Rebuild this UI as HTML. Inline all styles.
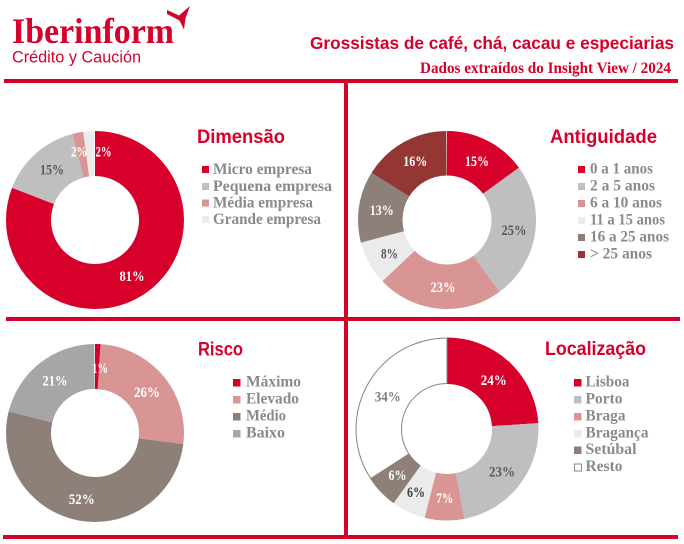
<!DOCTYPE html>
<html><head><meta charset="utf-8"><style>
html,body{margin:0;padding:0;background:#fff;}
svg{display:block;}
.t{font-family:"Liberation Sans",sans-serif;font-weight:bold;fill:#d6002a;}
.lg{font-family:"Liberation Serif",serif;font-weight:bold;fill:#8a8a8a;font-size:16px;}
.pc{font-family:"Liberation Serif",serif;font-weight:bold;font-size:15px;text-anchor:middle;}
</style></head><body>
<svg width="684" height="544" viewBox="0 0 684 544" xmlns="http://www.w3.org/2000/svg">
<rect width="684" height="544" fill="#fff"/>
<!-- header -->
<text x="12" y="43" font-family="Liberation Serif,serif" font-weight="bold" font-size="36" fill="#d6002a" textLength="162" lengthAdjust="spacingAndGlyphs">Iberinform</text>
<path d="M167,10 L179,15.5 L190,6 L185.5,18 L184,29.5 L179.5,20.5 L167,14 Z" fill="#d6002a"/>
<text x="12" y="62.5" font-family="Liberation Sans,sans-serif" font-size="17" fill="#d6002a" textLength="129" lengthAdjust="spacingAndGlyphs">Crédito y Caución</text>
<text x="310" y="49" class="t" font-size="17.5" textLength="364" lengthAdjust="spacingAndGlyphs">Grossistas de café, chá, cacau e especiarias</text>
<text x="420" y="73" font-family="Liberation Serif,serif" font-weight="bold" font-size="16" fill="#d6002a" textLength="251" lengthAdjust="spacingAndGlyphs">Dados extraídos do Insight View / 2024</text>

<!-- grid lines -->
<rect x="4" y="79" width="674" height="4" fill="#d6002a"/>
<rect x="344" y="79" width="4" height="460" fill="#d6002a"/>
<rect x="6" y="317" width="674" height="4" fill="#d6002a"/>
<rect x="3" y="535" width="675" height="4" fill="#d6002a"/>

<!-- Dimensão donut -->
<g transform="rotate(-90 95 220)" fill="none" stroke-width="45">
<circle cx="95" cy="220" r="66.5" pathLength="100" stroke="#d6002a" stroke-dasharray="81 100" stroke-dashoffset="0"/>
<circle cx="95" cy="220" r="66.5" pathLength="100" stroke="#bfbfbf" stroke-dasharray="15 100" stroke-dashoffset="-81"/>
<circle cx="95" cy="220" r="66.5" pathLength="100" stroke="#d99594" stroke-dasharray="2 100" stroke-dashoffset="-96"/>
<circle cx="95" cy="220" r="66.5" pathLength="100" stroke="#ebebeb" stroke-dasharray="2 100" stroke-dashoffset="-98"/>
</g>
<text class="pc" x="132" y="281" fill="#fff" textLength="25" lengthAdjust="spacingAndGlyphs">81%</text>
<text class="pc" x="52" y="174.5" fill="#595959" textLength="24" lengthAdjust="spacingAndGlyphs">15%</text>
<text class="pc" x="79" y="156.5" fill="#fff" textLength="16" lengthAdjust="spacingAndGlyphs">2%</text>
<text class="pc" x="103.5" y="156.5" fill="#fff" textLength="16" lengthAdjust="spacingAndGlyphs">2%</text>

<text x="197" y="143" class="t" font-size="19" textLength="88" lengthAdjust="spacingAndGlyphs">Dimensão</text>
<rect x="202" y="166" width="7" height="7" fill="#d6002a"/>
<text class="lg" x="213" y="174" textLength="99" lengthAdjust="spacingAndGlyphs">Micro empresa</text>
<rect x="202" y="183" width="7" height="7" fill="#bfbfbf"/>
<text class="lg" x="213" y="191" textLength="119" lengthAdjust="spacingAndGlyphs">Pequena empresa</text>
<rect x="202" y="199.5" width="7" height="7" fill="#d99594"/>
<text class="lg" x="213" y="207.5" textLength="100" lengthAdjust="spacingAndGlyphs">Média empresa</text>
<rect x="202" y="216" width="7" height="7" fill="#ebebeb"/>
<text class="lg" x="213" y="224" textLength="108" lengthAdjust="spacingAndGlyphs">Grande empresa</text>

<!-- Antiguidade donut -->
<g transform="rotate(-90 447 220)" fill="none" stroke-width="44.5">
<circle cx="447" cy="220" r="66.75" pathLength="100" stroke="#d6002a" stroke-dasharray="15 100" stroke-dashoffset="0"/>
<circle cx="447" cy="220" r="66.75" pathLength="100" stroke="#bfbfbf" stroke-dasharray="25 100" stroke-dashoffset="-15"/>
<circle cx="447" cy="220" r="66.75" pathLength="100" stroke="#d99594" stroke-dasharray="23 100" stroke-dashoffset="-40"/>
<circle cx="447" cy="220" r="66.75" pathLength="100" stroke="#ebebeb" stroke-dasharray="8 100" stroke-dashoffset="-63"/>
<circle cx="447" cy="220" r="66.75" pathLength="100" stroke="#8e7f79" stroke-dasharray="13 100" stroke-dashoffset="-71"/>
<circle cx="447" cy="220" r="66.75" pathLength="100" stroke="#943634" stroke-dasharray="16 100" stroke-dashoffset="-84"/>
</g>
<text class="pc" x="477" y="166" fill="#fff" textLength="24" lengthAdjust="spacingAndGlyphs">15%</text>
<text class="pc" x="514" y="235" fill="#595959" textLength="25" lengthAdjust="spacingAndGlyphs">25%</text>
<text class="pc" x="443" y="292" fill="#fff" textLength="25" lengthAdjust="spacingAndGlyphs">23%</text>
<text class="pc" x="389.5" y="258.3" fill="#595959" textLength="17" lengthAdjust="spacingAndGlyphs">8%</text>
<text class="pc" x="381.7" y="215" fill="#fff" textLength="24" lengthAdjust="spacingAndGlyphs">13%</text>
<text class="pc" x="415.3" y="166" fill="#fff" textLength="24" lengthAdjust="spacingAndGlyphs">16%</text>

<text x="550" y="143" class="t" font-size="19" textLength="107" lengthAdjust="spacingAndGlyphs">Antiguidade</text>
<rect x="578" y="166" width="7" height="7" fill="#d6002a"/>
<text class="lg" x="590" y="173.5" textLength="63" lengthAdjust="spacingAndGlyphs">0 a 1 anos</text>
<rect x="578" y="183" width="7" height="7" fill="#bfbfbf"/>
<text class="lg" x="590" y="190.5" textLength="65" lengthAdjust="spacingAndGlyphs">2 a 5 anos</text>
<rect x="578" y="200" width="7" height="7" fill="#d99594"/>
<text class="lg" x="590" y="207.5" textLength="72" lengthAdjust="spacingAndGlyphs">6 a 10 anos</text>
<rect x="578" y="217" width="7" height="7" fill="#ebebeb"/>
<text class="lg" x="590" y="224.5" textLength="75" lengthAdjust="spacingAndGlyphs">11 a 15 anos</text>
<rect x="578" y="234" width="7" height="7" fill="#8e7f79"/>
<text class="lg" x="590" y="241.5" textLength="79" lengthAdjust="spacingAndGlyphs">16 a 25 anos</text>
<rect x="578" y="251" width="7" height="7" fill="#943634"/>
<text class="lg" x="590" y="258.5" textLength="62" lengthAdjust="spacingAndGlyphs">&gt; 25 anos</text>

<!-- Risco donut -->
<g transform="rotate(-90 95 433)" fill="none" stroke-width="45">
<circle cx="95" cy="433" r="66.5" pathLength="100" stroke="#d6002a" stroke-dasharray="1 100" stroke-dashoffset="0"/>
<circle cx="95" cy="433" r="66.5" pathLength="100" stroke="#d99594" stroke-dasharray="26 100" stroke-dashoffset="-1"/>
<circle cx="95" cy="433" r="66.5" pathLength="100" stroke="#8e7f79" stroke-dasharray="52 100" stroke-dashoffset="-27"/>
<circle cx="95" cy="433" r="66.5" pathLength="100" stroke="#a6a6a6" stroke-dasharray="21 100" stroke-dashoffset="-79"/>
</g>
<text class="pc" x="100" y="373" fill="#fff" textLength="16" lengthAdjust="spacingAndGlyphs">1%</text>
<text class="pc" x="147" y="397" fill="#fff" textLength="26" lengthAdjust="spacingAndGlyphs">26%</text>
<text class="pc" x="55" y="385.5" fill="#fff" textLength="25" lengthAdjust="spacingAndGlyphs">21%</text>
<text class="pc" x="81.7" y="504" fill="#fff" textLength="26" lengthAdjust="spacingAndGlyphs">52%</text>

<text x="198" y="355.5" class="t" font-size="19" textLength="45" lengthAdjust="spacingAndGlyphs">Risco</text>
<rect x="233" y="379" width="7.5" height="7.5" fill="#d6002a"/>
<text class="lg" x="246" y="386.5" textLength="55" lengthAdjust="spacingAndGlyphs">Máximo</text>
<rect x="233" y="396" width="7.5" height="7.5" fill="#d99594"/>
<text class="lg" x="246" y="403.5" textLength="53" lengthAdjust="spacingAndGlyphs">Elevado</text>
<rect x="233" y="413" width="7.5" height="7.5" fill="#8e7f79"/>
<text class="lg" x="246" y="420.5" textLength="40" lengthAdjust="spacingAndGlyphs">Médio</text>
<rect x="233" y="430" width="7.5" height="7.5" fill="#a6a6a6"/>
<text class="lg" x="246" y="437.5" textLength="39" lengthAdjust="spacingAndGlyphs">Baixo</text>

<!-- Localização donut -->
<g transform="rotate(-90 447 429)" fill="none" stroke-width="46.5">
<circle cx="447" cy="429" r="68.25" pathLength="100" stroke="#d6002a" stroke-dasharray="24 100" stroke-dashoffset="0"/>
<circle cx="447" cy="429" r="68.25" pathLength="100" stroke="#bfbfbf" stroke-dasharray="23 100" stroke-dashoffset="-24"/>
<circle cx="447" cy="429" r="68.25" pathLength="100" stroke="#d99594" stroke-dasharray="7 100" stroke-dashoffset="-47"/>
<circle cx="447" cy="429" r="68.25" pathLength="100" stroke="#ebebeb" stroke-dasharray="6 100" stroke-dashoffset="-54"/>
<circle cx="447" cy="429" r="68.25" pathLength="100" stroke="#8e7f79" stroke-dasharray="6 100" stroke-dashoffset="-60"/>
</g>
<g transform="rotate(-90 447 429)" fill="none" stroke="#8e7f79" stroke-width="1">
<circle cx="447" cy="429" r="91" pathLength="100" stroke-dasharray="34 100" stroke-dashoffset="-66"/>
<circle cx="447" cy="429" r="45.5" pathLength="100" stroke-dasharray="34 100" stroke-dashoffset="-66"/>
</g>
<line x1="447" y1="338" x2="447" y2="383.5" stroke="#8e7f79" stroke-width="1"/>
<text class="pc" x="493.7" y="385" fill="#fff" textLength="26" lengthAdjust="spacingAndGlyphs">24%</text>
<text class="pc" x="387.7" y="401.5" fill="#808080" textLength="26" lengthAdjust="spacingAndGlyphs">34%</text>
<text class="pc" x="502" y="476.5" fill="#595959" textLength="26" lengthAdjust="spacingAndGlyphs">23%</text>
<text class="pc" x="397.5" y="480" fill="#fff" textLength="18" lengthAdjust="spacingAndGlyphs">6%</text>
<text class="pc" x="416" y="497" fill="#404040" textLength="18" lengthAdjust="spacingAndGlyphs">6%</text>
<text class="pc" x="444.7" y="503" fill="#fff" textLength="17" lengthAdjust="spacingAndGlyphs">7%</text>

<text x="545" y="355" class="t" font-size="19" textLength="101" lengthAdjust="spacingAndGlyphs">Localização</text>
<rect x="574" y="379" width="7.5" height="7.5" fill="#d6002a"/>
<text class="lg" x="585.5" y="386.5" textLength="44" lengthAdjust="spacingAndGlyphs">Lisboa</text>
<rect x="574" y="396" width="7.5" height="7.5" fill="#bfbfbf"/>
<text class="lg" x="585.5" y="403.5" textLength="37" lengthAdjust="spacingAndGlyphs">Porto</text>
<rect x="574" y="413" width="7.5" height="7.5" fill="#d99594"/>
<text class="lg" x="585.5" y="420.5" textLength="40" lengthAdjust="spacingAndGlyphs">Braga</text>
<rect x="574" y="430" width="7.5" height="7.5" fill="#ebebeb"/>
<text class="lg" x="585.5" y="437.5" textLength="63" lengthAdjust="spacingAndGlyphs">Bragança</text>
<rect x="574" y="446.5" width="7.5" height="7.5" fill="#8e7f79"/>
<text class="lg" x="585.5" y="454" textLength="51" lengthAdjust="spacingAndGlyphs">Setúbal</text>
<rect x="574.5" y="464" width="7" height="7" fill="#fff" stroke="#8e7f79" stroke-width="1"/>
<text class="lg" x="585.5" y="471" textLength="37" lengthAdjust="spacingAndGlyphs">Resto</text>
</svg>
</body></html>
